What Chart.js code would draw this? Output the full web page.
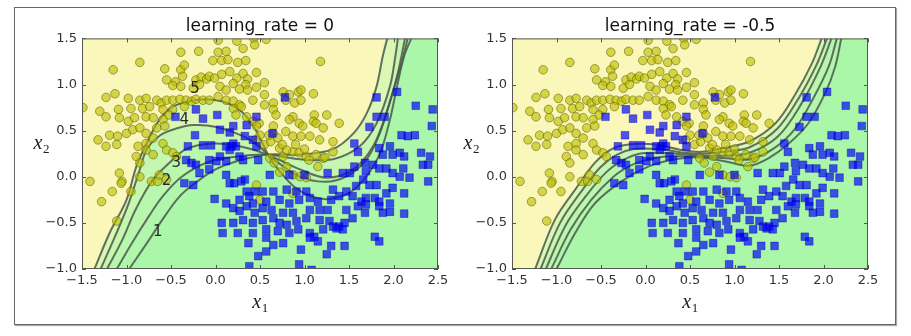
<!DOCTYPE html>
<html>
<head>
<meta charset="utf-8">
<script src="https://cdn.jsdelivr.net/npm/chart.js@4.4.1/dist/chart.umd.min.js"></script>
<style>
  body { margin: 0; background: #fff; width: 911px; height: 336px; overflow: hidden; }
  #frame { position: absolute; left: 14px; top: 7px; width: 880px; height: 316px; border: 1px solid #666; box-shadow: 1px 1px 1px #aaa; }
  canvas { position: absolute; top: 8px; }
  #left { left: 15px; }
  #right { left: 445px; }
</style>
</head>
<body>
<div id="frame"></div>
<canvas id="left" width="440" height="316"></canvas>
<canvas id="right" width="440" height="316"></canvas>
<script>
var xMin = -1.5, xMax = 2.5, yMin = -1.0, yMax = 1.5;
var xTicks = [-1.5, -1.0, -0.5, 0.0, 0.5, 1.0, 1.5, 2.0, 2.5];
var yTicks = [-1.0, -0.5, 0.0, 0.5, 1.0, 1.5];
var titles = ['learning_rate = 0', 'learning_rate = -0.5'];

// class 0 (yellow circles)
var circles = [
  [0.03,1.48],[0.24,1.47],[0.43,1.50],[0.57,1.49],[0.44,1.43],
  [-0.39,1.35],[-0.19,1.36],[0.03,1.35],[0.12,1.36],[0.31,1.39],
  [-0.03,1.26],[0.07,1.26],[0.14,1.27],[0.25,1.24],[0.34,1.26],[1.18,1.25],
  [-0.85,1.24],[-1.15,1.16],[-0.57,1.17],[-0.39,1.16],[-0.35,1.21],
  [-0.55,1.05],[-0.45,1.03],[-0.37,1.09],[-0.22,1.05],[-0.16,1.08],[-0.10,1.06],[-0.07,1.09],[-0.01,1.07],
  [0.07,1.11],[0.16,1.14],[0.24,1.07],[0.31,1.12],[0.36,1.06],[0.46,1.13],[0.55,1.02],[0.20,1.01],[0.34,1.00],
  [-0.48,0.99],[-0.39,0.98],[-0.25,0.96],[-0.18,1.00],[0.05,0.98],[0.12,0.94],[0.27,0.95],[0.36,0.94],
  [0.46,0.97],[0.76,0.92],[0.83,0.89],[0.93,0.92],[0.96,0.94],[1.10,0.90],
  [-1.23,0.86],[-1.13,0.90],[-0.98,0.85],[-0.85,0.83],[-0.78,0.85],[-0.66,0.83],[-0.61,0.80],[-0.55,0.83],
  [-0.48,0.83],[-0.40,0.84],[-0.33,0.83],[-0.27,0.82],[-0.22,0.84],[-0.14,0.83],[-0.07,0.83],[0.03,0.87],
  [0.12,0.83],[0.20,0.82],[0.27,0.78],[0.42,0.83],[0.55,0.89],[0.65,0.80],[0.79,0.83],[0.89,0.80],[0.96,0.83],
  [-1.49,0.75],[-1.30,0.71],[-1.09,0.73],[-0.95,0.74],[-0.82,0.74],[-0.74,0.76],[-0.59,0.73],[-0.48,0.73],
  [-0.35,0.76],[0.20,0.74],[0.29,0.76],[0.55,0.78],[0.65,0.73],[0.68,0.67],[0.87,0.65],[1.11,0.67],[1.25,0.67],
  [-1.23,0.65],[-1.08,0.64],[-0.98,0.60],[-0.91,0.64],[-0.78,0.65],[-0.70,0.64],[-0.59,0.62],[-0.52,0.67],
  [0.23,0.67],[0.35,0.65],[0.42,0.60],[0.49,0.58],[0.46,0.55],[0.65,0.55],[0.83,0.62],[0.94,0.58],[0.98,0.55],
  [1.10,0.60],[1.13,0.58],[1.21,0.53],[1.39,0.58],
  [-1.32,0.40],[-1.19,0.45],[-1.10,0.44],[-1.00,0.47],[-0.93,0.51],[-0.85,0.53],[-0.78,0.47],[-0.66,0.53],
  [-0.57,0.55],[0.65,0.47],[0.79,0.49],[0.87,0.44],[0.96,0.44],[1.06,0.44],[1.17,0.40],[1.32,0.38],
  [-1.23,0.33],[-1.11,0.35],[-0.87,0.33],[-0.78,0.36],[-0.70,0.42],[-0.59,0.36],[-0.55,0.29],
  [0.72,0.31],[0.87,0.27],[0.94,0.26],[1.02,0.22],[1.13,0.24],[1.21,0.20],[1.32,0.27],
  [-0.89,0.22],[-0.78,0.29],[-0.70,0.24],[-0.85,0.15],[-0.48,0.26],[-0.44,0.22],
  [-1.41,-0.05],[-1.08,0.04],[-1.05,-0.05],[-1.06,-0.07],[-0.95,-0.16],[-0.85,0.00],[-0.72,-0.05],[-0.65,-0.05],
  [-0.63,0.02],[-0.55,-0.03],[-1.16,-0.16],[-1.28,-0.27],[-1.11,-0.48],
  [0.46,-0.09],[0.87,-0.18],[0.50,-0.25],
  [0.61,0.20],[0.76,0.22],[0.80,0.11],[0.87,0.02],[1.02,-0.01],[1.23,0.21],[1.15,0.11],[0.80,0.29],
  [0.55,0.35],[0.62,0.38],[0.70,0.42],[0.75,0.35],[0.90,0.35],[1.00,0.30],[1.05,0.18],[0.66,0.15],
  [0.72,0.05],[0.95,0.00],[0.60,0.45],[0.50,0.45],[0.45,0.40]
];

// class 1 (blue squares)
var squares = [
  [0.78,0.86],[0.46,0.65],[-0.45,0.65],[-0.22,0.73],[-0.14,0.63],[0.02,0.67],[0.20,0.55],[0.35,0.56],[0.64,0.47],
  [2.04,0.92],[2.25,0.77],[2.44,0.73],[2.43,0.55],[1.90,0.65],[1.81,0.65],[1.73,0.54],[1.81,0.86],
  [-0.23,0.45],[0.05,0.51],[0.16,0.48],[0.33,0.44],[0.42,0.40],
  [-0.31,0.33],[-0.14,0.34],[-0.05,0.34],[0.12,0.33],[0.18,0.33],[0.20,0.36],[0.23,0.33],[0.16,0.29],
  [0.46,0.33],[0.27,0.22],[0.48,0.18],[0.05,0.22],
  [-0.33,0.18],[-0.27,0.15],[-0.22,0.13],[-0.07,0.18],[0.01,0.17],[0.12,0.17],[0.31,0.18],
  [1.56,0.36],[1.60,0.27],[1.84,0.31],[1.88,0.24],[1.96,0.33],[1.99,0.24],[2.07,0.26],[2.12,0.22],
  [2.24,0.45],[2.16,0.44],[2.31,0.26],[2.41,0.22],[2.33,0.13],[2.39,0.13],[2.09,0.45],
  [-0.18,0.04],[-0.07,0.08],[0.12,0.02],[0.33,-0.03],[0.61,0.02],[0.83,0.02],[1.00,0.02],[1.26,0.04],
  [1.43,0.04],[1.51,0.04],[1.56,0.11],[1.68,0.15],[1.69,0.06],[1.77,0.13],[1.84,0.09],[1.92,0.09],
  [1.99,0.04],[2.07,0.00],[2.11,0.09],[2.18,-0.01],[2.39,-0.05],
  [-0.35,-0.07],[-0.25,-0.09],[0.16,-0.07],[0.21,-0.07],[0.29,-0.05],[0.35,-0.16],[0.44,-0.16],[0.53,-0.16],
  [0.65,-0.16],[0.80,-0.14],[0.91,-0.16],[1.02,-0.16],[1.32,-0.14],[1.47,-0.16],[1.58,-0.10],[1.66,-0.03],
  [1.73,-0.09],[1.81,-0.09],[1.99,-0.12],[1.92,-0.18],
  [-0.01,-0.24],[0.12,-0.29],[0.27,-0.25],[0.38,-0.21],[0.42,-0.29],[0.57,-0.27],[0.72,-0.25],[0.83,-0.29],
  [0.94,-0.25],[1.06,-0.23],[1.15,-0.27],[1.30,-0.25],[1.39,-0.21],[1.54,-0.21],[1.64,-0.27],[1.69,-0.23],
  [1.79,-0.23],[1.84,-0.27],[1.96,-0.29],[2.12,-0.18],
  [0.20,-0.34],[0.27,-0.37],[0.35,-0.32],[0.44,-0.39],[0.53,-0.34],[0.63,-0.36],[0.76,-0.39],[0.87,-0.39],
  [1.06,-0.36],[1.17,-0.36],[1.26,-0.36],[1.47,-0.36],[1.60,-0.32],[1.69,-0.30],[1.84,-0.32],
  [0.07,-0.50],[0.20,-0.50],[0.31,-0.47],[0.42,-0.50],[0.53,-0.47],[0.65,-0.45],[0.72,-0.50],[0.80,-0.52],
  [0.91,-0.48],[1.02,-0.45],[1.17,-0.47],[1.28,-0.48],[1.32,-0.54],[1.39,-0.54],[1.45,-0.50],[1.54,-0.45],
  [1.68,-0.39],[1.88,-0.39],[1.96,-0.38],[2.12,-0.40],
  [0.08,-0.61],[0.25,-0.61],[0.42,-0.61],[0.57,-0.57],[0.70,-0.59],[0.83,-0.61],[0.93,-0.57],[1.06,-0.61],
  [1.11,-0.65],[1.21,-0.57],[1.36,-0.56],[1.43,-0.57],
  [0.37,-0.72],[0.57,-0.66],[0.65,-0.74],[0.76,-0.72],[1.06,-0.66],[1.15,-0.70],[1.30,-0.75],[1.45,-0.75],
  [1.79,-0.65],[1.84,-0.70],
  [0.48,-0.86],[0.57,-0.81],[0.96,-0.79],[1.25,-0.84],[0.38,-0.97],[0.94,-0.95],[1.08,-1.01]
];

// decision boundaries, learning_rate = 0
var lr0Curve1 = [[-0.97,-1.0],[-0.75,-0.69],[-0.60,-0.47],[-0.41,-0.22],[-0.23,-0.07],[0.0,0.08],[0.25,0.17],[0.58,0.24],[0.95,0.24],[1.32,0.30],[1.55,0.47],[1.70,0.69],[1.81,0.98],[1.88,1.31],[1.93,1.5]];
var lr0Curve2 = [[-1.11,-1.0],[-0.94,-0.72],[-0.75,-0.43],[-0.60,-0.22],[-0.38,0.0],[-0.08,0.16],[0.25,0.22],[0.58,0.24],[0.95,0.19],[1.32,0.19],[1.62,0.33],[1.81,0.58],[1.96,0.98],[2.02,1.30],[2.05,1.5]];
var lr0Curve3 = [[-1.22,-1.0],[-1.05,-0.69],[-0.90,-0.36],[-0.71,-0.04],[-0.53,0.14],[-0.33,0.30],[-0.03,0.36],[0.27,0.33],[0.58,0.24],[0.95,0.08],[1.25,-0.01],[1.55,0.08],[1.77,0.33],[1.92,0.69],[2.04,1.09],[2.13,1.5]];
var lr0Curve4 = [[-1.29,-1.0],[-1.13,-0.65],[-0.98,-0.30],[-0.86,0.05],[-0.77,0.30],[-0.62,0.45],[-0.45,0.52],[-0.25,0.56],[0.01,0.54],[0.31,0.44],[0.50,0.32],[0.60,0.23],[0.75,0.12],[0.95,0.0],[1.15,-0.05],[1.35,-0.04],[1.55,0.05],[1.72,0.22],[1.85,0.48],[1.97,0.85],[2.08,1.2],[2.16,1.5]];
var lr0Curve5 = [[-1.36,-1.0],[-1.19,-0.61],[-1.0,-0.25],[-0.89,0.11],[-0.78,0.35],[-0.63,0.62],[-0.48,0.76],[-0.29,0.82],[-0.10,0.84],[0.13,0.80],[0.30,0.70],[0.42,0.56],[0.52,0.38],[0.60,0.22],[0.72,0.06],[0.90,-0.12],[1.10,-0.22],[1.29,-0.24],[1.51,-0.17],[1.70,0.01],[1.85,0.26],[1.96,0.62],[2.04,0.98],[2.12,1.31],[2.20,1.5]];

// decision boundaries, learning_rate = -0.5
var lrNegCurve1 = [[-1.24,-1.0],[-1.02,-0.47],[-0.79,-0.14],[-0.57,0.15],[-0.38,0.30],[-0.19,0.35],[0.11,0.35],[0.41,0.29],[0.63,0.27],[0.86,0.31],[1.16,0.38],[1.46,0.58],[1.68,0.89],[1.87,1.23],[1.98,1.5]];
var lrNegCurve2 = [[-1.18,-1.0],[-0.96,-0.50],[-0.73,-0.17],[-0.51,0.10],[-0.32,0.24],[-0.13,0.30],[0.14,0.30],[0.43,0.26],[0.64,0.25],[0.88,0.27],[1.17,0.32],[1.48,0.52],[1.72,0.85],[1.92,1.21],[2.04,1.5]];
var lrNegCurve3 = [[-1.12,-1.0],[-0.90,-0.53],[-0.67,-0.21],[-0.44,0.05],[-0.25,0.18],[-0.07,0.25],[0.18,0.26],[0.45,0.24],[0.64,0.23],[0.90,0.23],[1.17,0.26],[1.49,0.44],[1.75,0.79],[1.97,1.2],[2.09,1.5]];
var lrNegCurve4 = [[-1.06,-1.0],[-0.84,-0.57],[-0.61,-0.25],[-0.36,0.0],[-0.17,0.12],[0.0,0.18],[0.22,0.22],[0.47,0.22],[0.64,0.22],[0.91,0.20],[1.17,0.19],[1.43,0.30],[1.68,0.52],[1.89,0.86],[2.06,1.2],[2.15,1.5]];
var lrNegCurve5 = [[-1.0,-1.0],[-0.79,-0.61],[-0.57,-0.29],[-0.27,-0.05],[0.03,0.11],[0.33,0.19],[0.63,0.21],[0.93,0.16],[1.17,0.12],[1.38,0.2],[1.61,0.36],[1.83,0.58],[2.02,0.91],[2.13,1.19],[2.2,1.5]];

var contourLabels = ['1', '2', '3', '4', '5'];
var contourLabelX = [-0.65, -0.55, -0.44, -0.35, -0.23];
var contourLabelY = [-0.60, -0.05, 0.15, 0.61, 0.95];

var yellowBg = '#f9f7ba';
var greenLayer = 'rgba(160,245,168,0.35)';
var lineColor = 'rgba(75,88,75,0.85)';

function fmt(v) {
    return Number(v).toFixed(1).replace('-', '\u2212');
}

var framePlugin = {
    id: 'frame',
    beforeDraw: function (chart) {
        var a = chart.chartArea, ctx = chart.ctx;
        ctx.save();
        ctx.fillStyle = yellowBg;
        ctx.fillRect(a.left, a.top, a.right - a.left, a.bottom - a.top);
        ctx.restore();
    },
    afterDatasetsDraw: function (chart) {
        var a = chart.chartArea, ctx = chart.ctx;
        var sx = chart.scales.x, sy = chart.scales.y;
        ctx.save();
        ctx.strokeStyle = '#555';
        ctx.lineWidth = 1;
        ctx.strokeRect(a.left + 0.5, a.top + 0.5, a.right - a.left - 1, a.bottom - a.top - 1);
        ctx.beginPath();
        xTicks.forEach(function (v) {
            var p = Math.round(sx.getPixelForValue(v)) + 0.5;
            ctx.moveTo(p, a.bottom); ctx.lineTo(p, a.bottom - 4);
            ctx.moveTo(p, a.top); ctx.lineTo(p, a.top + 4);
        });
        yTicks.forEach(function (v) {
            var p = Math.round(sy.getPixelForValue(v)) + 0.5;
            ctx.moveTo(a.left, p); ctx.lineTo(a.left + 4, p);
            ctx.moveTo(a.right, p); ctx.lineTo(a.right - 4, p);
        });
        ctx.stroke();
        ctx.restore();
    },
    afterDraw: function (chart, args, opts) {
        var a = chart.chartArea, ctx = chart.ctx;
        ctx.save();
        ctx.fillStyle = '#222';
        ctx.textBaseline = 'alphabetic';
        // x1 label
        ctx.font = 'italic 20px "Liberation Serif", "DejaVu Serif", serif';
        var wx = ctx.measureText('x').width;
        ctx.font = '13px "Liberation Serif", "DejaVu Serif", serif';
        var w1 = ctx.measureText('1').width;
        var cx = (a.left + a.right) / 2 - (wx + w1) / 2;
        ctx.font = 'italic 20px "Liberation Serif", "DejaVu Serif", serif';
        ctx.fillText('x', cx, a.bottom + 39);
        ctx.font = '13px "Liberation Serif", "DejaVu Serif", serif';
        ctx.fillText('1', cx + wx + 0.5, a.bottom + 43);
        // x2 label, horizontal
        var rx = a.left - 33 - w1 - wx;
        var by = (a.top + a.bottom) / 2 - 5;
        ctx.font = 'italic 20px "Liberation Serif", "DejaVu Serif", serif';
        ctx.fillText('x', rx, by);
        ctx.font = '13px "Liberation Serif", "DejaVu Serif", serif';
        ctx.fillText('2', rx + wx + 0.5, by + 4);
        // contour labels
        if (opts.labels) {
            var sx = chart.scales.x, sy = chart.scales.y;
            ctx.font = '15px "DejaVu Sans"';
            ctx.fillStyle = '#2a2a2a';
            ctx.textAlign = 'center';
            ctx.textBaseline = 'middle';
            contourLabels.forEach(function (t, i) {
                ctx.fillText(t, sx.getPixelForValue(contourLabelX[i]), sy.getPixelForValue(contourLabelY[i]));
            });
        }
        ctx.restore();
    }
};

function toPoints(arr) {
    return arr.map(function (p) { return { x: p[0], y: p[1] }; });
}

function makeChart(id, titleText, curves, showLabels) {
    var datasets = [
        {
            data: toPoints(squares), showLine: false, pointStyle: 'rect', pointRadius: 5.4,
            pointBackgroundColor: 'rgba(0,0,255,0.68)', pointBorderColor: 'rgba(0,0,160,0.5)',
            pointBorderWidth: 0.8, order: 0
        },
        {
            data: toPoints(circles), showLine: false, pointStyle: 'circle', pointRadius: 4.3,
            pointBackgroundColor: 'rgba(191,191,0,0.62)', pointBorderColor: 'rgba(95,95,0,0.55)',
            pointBorderWidth: 1, order: 1
        }
    ];
    curves.forEach(function (c) {
        // boundary line
        datasets.push({
            data: toPoints(c), pointRadius: 0, borderWidth: 2, borderColor: lineColor,
            tension: 0.35, fill: false, order: 2
        });
        // green side of the boundary; the corner point closes it along the top edge
        datasets.push({
            data: toPoints(c).concat([{ x: xMax, y: yMax }]), pointRadius: 0, borderWidth: 0,
            borderColor: 'transparent', tension: 0.35, fill: 'start', backgroundColor: greenLayer, order: 3
        });
    });

    return new Chart(document.getElementById(id), {
        type: 'line',
        data: { datasets: datasets },
        plugins: [framePlugin],
        options: {
            responsive: false,
            animation: false,
            events: [],
            layout: { padding: { left: 0, right: 17, top: 0, bottom: 0 } },
            plugins: {
                legend: { display: false },
                tooltip: { enabled: false },
                frame: { labels: showLabels },
                title: {
                    display: true, text: titleText, fullSize: false, color: '#111',
                    font: { family: 'DejaVu Sans', size: 17, weight: 'normal' },
                    padding: { top: 8, bottom: 2 }
                }
            },
            scales: {
                x: {
                    type: 'linear', min: xMin, max: xMax,
                    grid: { display: false, drawTicks: false },
                    border: { display: false },
                    afterBuildTicks: function (s) { s.ticks = xTicks.map(function (v) { return { value: v }; }); },
                    afterFit: function (s) { s.height = 55; },
                    ticks: {
                        autoSkip: false, maxRotation: 0, padding: 4, color: '#333',
                        font: { family: 'DejaVu Sans', size: 13 }, callback: fmt
                    }
                },
                y: {
                    type: 'linear', min: yMin, max: yMax,
                    grid: { display: false, drawTicks: false },
                    border: { display: false },
                    afterBuildTicks: function (s) { s.ticks = yTicks.map(function (v) { return { value: v }; }); },
                    afterFit: function (s) { s.width = 67; },
                    ticks: {
                        autoSkip: false, padding: 5, color: '#333',
                        font: { family: 'DejaVu Sans', size: 13 }, callback: fmt
                    }
                }
            }
        }
    });
}

makeChart('left', titles[0], [lr0Curve1, lr0Curve2, lr0Curve3, lr0Curve4, lr0Curve5], true);
makeChart('right', titles[1], [lrNegCurve1, lrNegCurve2, lrNegCurve3, lrNegCurve4, lrNegCurve5], false);
</script>
</body>
</html>
